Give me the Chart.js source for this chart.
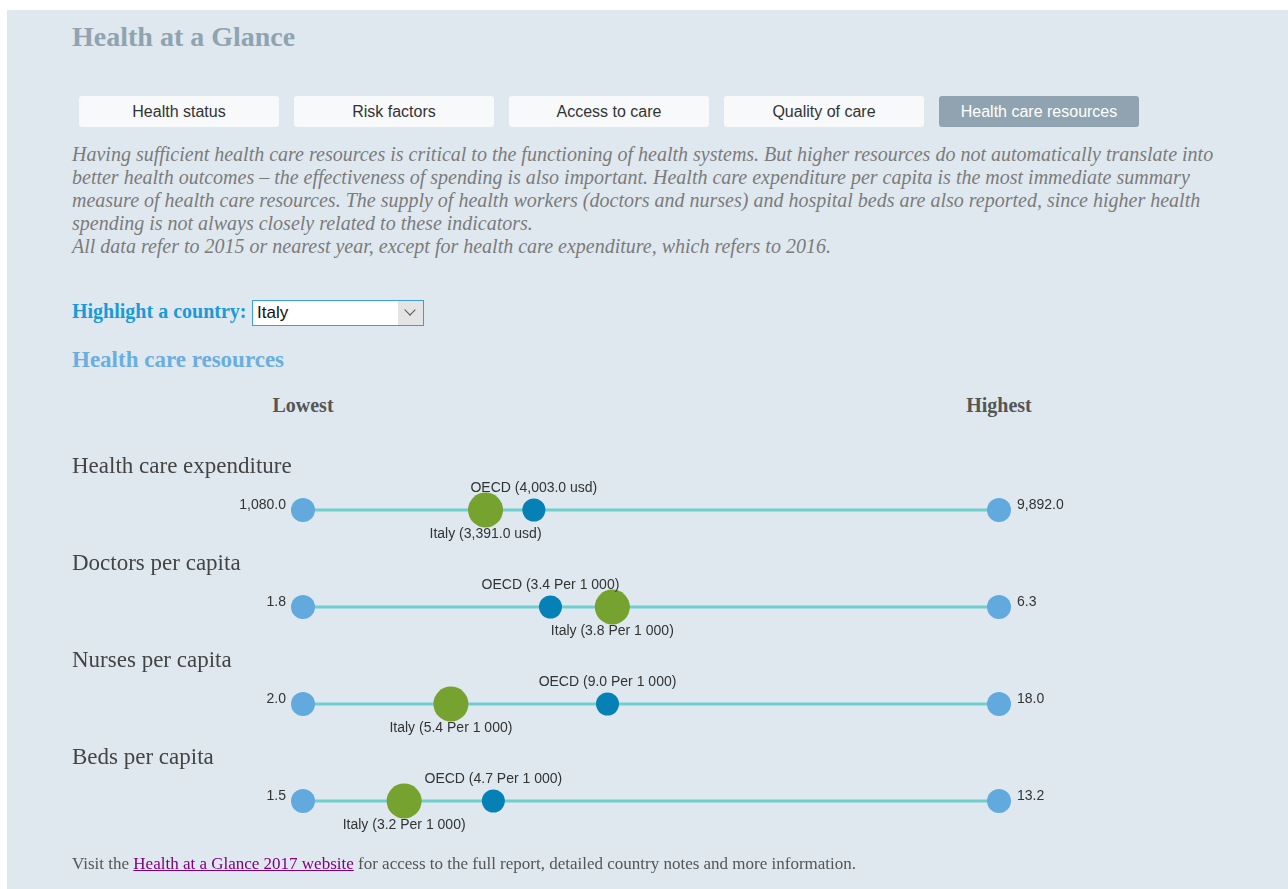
<!DOCTYPE html>
<html>
<head>
<meta charset="utf-8">
<title>Health at a Glance</title>
<script src="https://cdn.jsdelivr.net/npm/chart.js@4.4.0/dist/chart.umd.min.js"></script>
<style>
    html, body { margin: 0; padding: 0; background: #fff; }
    body { width: 1288px; height: 889px; position: relative; overflow: hidden; }
    #panel { position: absolute; left: 7px; top: 10px; right: 0; bottom: 0; background: #dfe8ef; }
    .abs { position: absolute; white-space: nowrap; }
    #title { left: 72px; top: 21px; font: bold 28px "Liberation Serif", serif; color: #8fa3b1; }
    #tabs { left: 79px; top: 96px; }
    .tab { float: left; width: 200px; height: 31px; margin-right: 15px; background: #f7f9fb;
           border-radius: 3px; text-align: center; font: 16px "Liberation Sans", Arial, sans-serif; line-height: 31px; color: #333; }
    .tab.active { background: #8fa4b0; color: #fff; }
    #intro { left: 72px; top: 143px; font: italic 20px "Liberation Serif", serif; line-height: 23px; color: #7b7b7b; }
    #hlLabel { left: 72px; top: 300px; font: bold 20px "Liberation Serif", serif; color: #1a9bd7; }
    #selectBox { left: 252px; top: 300px; width: 170px; height: 24px; background: #fff; border: 1px solid #3a9fdc; }
    #selectBox span { position: absolute; left: 4px; top: 2px; font: 17px "Liberation Sans", Arial, sans-serif; color: #111; }
    #selectBox .arrow { position: absolute; right: 0; top: 0; width: 25px; height: 24px; background: #e4e4e4; }
    #selectBox .arrow:after { content: ''; position: absolute; left: 8px; top: 5px; width: 7px; height: 7px;
           border-right: 1px solid #555; border-bottom: 1px solid #555; transform: rotate(45deg); }
    #sectionTitle { left: 72px; top: 347px; font: bold 23px "Liberation Serif", serif; color: #6aaee0; }
    .endHead { top: 394px; width: 120px; margin-left: -60px; text-align: center; font: bold 20px "Liberation Serif", serif; color: #555; }
    #footer { left: 72px; top: 854px; font: 17px "Liberation Serif", serif; color: #555; }
    #footer a { color: #800080; text-decoration: underline; }
    #chartBox { position: absolute; left: 0; top: 440px; width: 1288px; height: 420px; }
</style>
</head>
<body>
<div id="panel"></div>
<div id="title" class="abs">Health at a Glance</div>
<div id="tabs" class="abs">
    <div class="tab">Health status</div>
    <div class="tab">Risk factors</div>
    <div class="tab">Access to care</div>
    <div class="tab">Quality of care</div>
    <div class="tab active">Health care resources</div>
</div>
<div id="intro" class="abs">Having sufficient health care resources is critical to the functioning of health systems. But higher resources do not automatically translate into<br>better health outcomes – the effectiveness of spending is also important. Health care expenditure per capita is the most immediate summary<br>measure of health care resources. The supply of health workers (doctors and nurses) and hospital beds are also reported, since higher health<br>spending is not always closely related to these indicators.<br>All data refer to 2015 or nearest year, except for health care expenditure, which refers to 2016.</div>
<div id="hlLabel" class="abs">Highlight a country:</div>
<div id="selectBox" class="abs"><span>Italy</span><div class="arrow"></div></div>
<div id="sectionTitle" class="abs">Health care resources</div>
<div class="abs endHead" style="left:303px">Lowest</div>
<div class="abs endHead" style="left:999px">Highest</div>
<div id="chartBox"><canvas id="dots" width="1288" height="420"></canvas></div>
<div id="footer" class="abs">Visit the <a href="#">Health at a Glance 2017 website</a> for access to the full report, detailed country notes and more information.</div>

<script>
// indicator rows, top to bottom
var indicators = ['Health care expenditure', 'Doctors per capita', 'Nurses per capita', 'Beds per capita'];
var units = ['usd', 'Per 1 000', 'Per 1 000', 'Per 1 000'];
var lowest = [1080.0, 1.8, 2.0, 1.5];
var highest = [9892.0, 6.3, 18.0, 13.2];
var oecdValues = [4003.0, 3.4, 9.0, 4.7];
var countryName = 'Italy';
var countryValues = [3391.0, 3.8, 5.4, 3.2];

var lineColor = '#6fcfd0';
var endColor = '#62a9de';
var oecdColor = '#0581b5';
var countryColor = '#76a22f';

function fmt(v) {
    return v.toLocaleString('en-US', { minimumFractionDigits: 1, maximumFractionDigits: 1 });
}

var datasets = [];
var scales = {
    y: { type: 'linear', min: 0, max: indicators.length - 1, reverse: true, display: false }
};

indicators.forEach(function (name, i) {
    var axisId = 'x' + i;
    scales[axisId] = { type: 'linear', axis: 'x', min: lowest[i], max: highest[i], display: false };

    datasets.push({
        role: 'range', row: i, xAxisID: axisId, yAxisID: 'y', order: 3,
        data: [{ x: lowest[i], y: i }, { x: highest[i], y: i }],
        showLine: true, borderColor: lineColor, borderWidth: 3,
        pointRadius: 12, pointBackgroundColor: endColor, pointBorderWidth: 0
    });
    datasets.push({
        role: 'oecd', row: i, xAxisID: axisId, yAxisID: 'y', order: 2,
        data: [{ x: oecdValues[i], y: i }],
        pointRadius: 11.5, pointBackgroundColor: oecdColor, pointBorderWidth: 0
    });
    datasets.push({
        role: 'country', row: i, xAxisID: axisId, yAxisID: 'y', order: 1,
        data: [{ x: countryValues[i], y: i }],
        pointRadius: 17.5, pointBackgroundColor: countryColor, pointBorderWidth: 0
    });
});

// row titles and value labels
var labelPlugin = {
    id: 'rowLabels',
    afterDatasetsDraw: function (chart) {
        var ctx = chart.ctx;
        ctx.save();
        chart.data.datasets.forEach(function (ds, di) {
            var meta = chart.getDatasetMeta(di);
            var i = ds.row;
            ctx.fillStyle = '#333';
            ctx.font = '14px "Liberation Sans", Arial, sans-serif';
            ctx.textBaseline = 'middle';
            if (ds.role === 'range') {
                var p0 = meta.data[0], p1 = meta.data[1];
                ctx.textAlign = 'right';
                ctx.fillText(fmt(lowest[i]), p0.x - 17, p0.y - 5);
                ctx.textAlign = 'left';
                ctx.fillText(fmt(highest[i]), p1.x + 18, p1.y - 5);

                ctx.fillStyle = '#444';
                ctx.font = '23px "Liberation Serif", serif';
                ctx.textAlign = 'left';
                ctx.fillText(indicators[i], 72, p0.y - 43);
            } else if (ds.role === 'oecd') {
                var po = meta.data[0];
                ctx.textAlign = 'center';
                ctx.fillText('OECD (' + fmt(oecdValues[i]) + ' ' + units[i] + ')', po.x, po.y - 22);
            } else {
                var pc = meta.data[0];
                ctx.textAlign = 'center';
                ctx.fillText(countryName + ' (' + fmt(countryValues[i]) + ' ' + units[i] + ')', pc.x, pc.y + 24);
            }
        });
        ctx.restore();
    }
};

new Chart(document.getElementById('dots').getContext('2d'), {
    type: 'scatter',
    data: { datasets: datasets },
    options: {
        responsive: false,
        animation: false,
        clip: false,
        layout: { padding: { left: 303, right: 289, top: 70, bottom: 59 } },
        scales: scales,
        plugins: { legend: { display: false }, tooltip: { enabled: false } }
    },
    plugins: [labelPlugin]
});
</script>
</body>
</html>
